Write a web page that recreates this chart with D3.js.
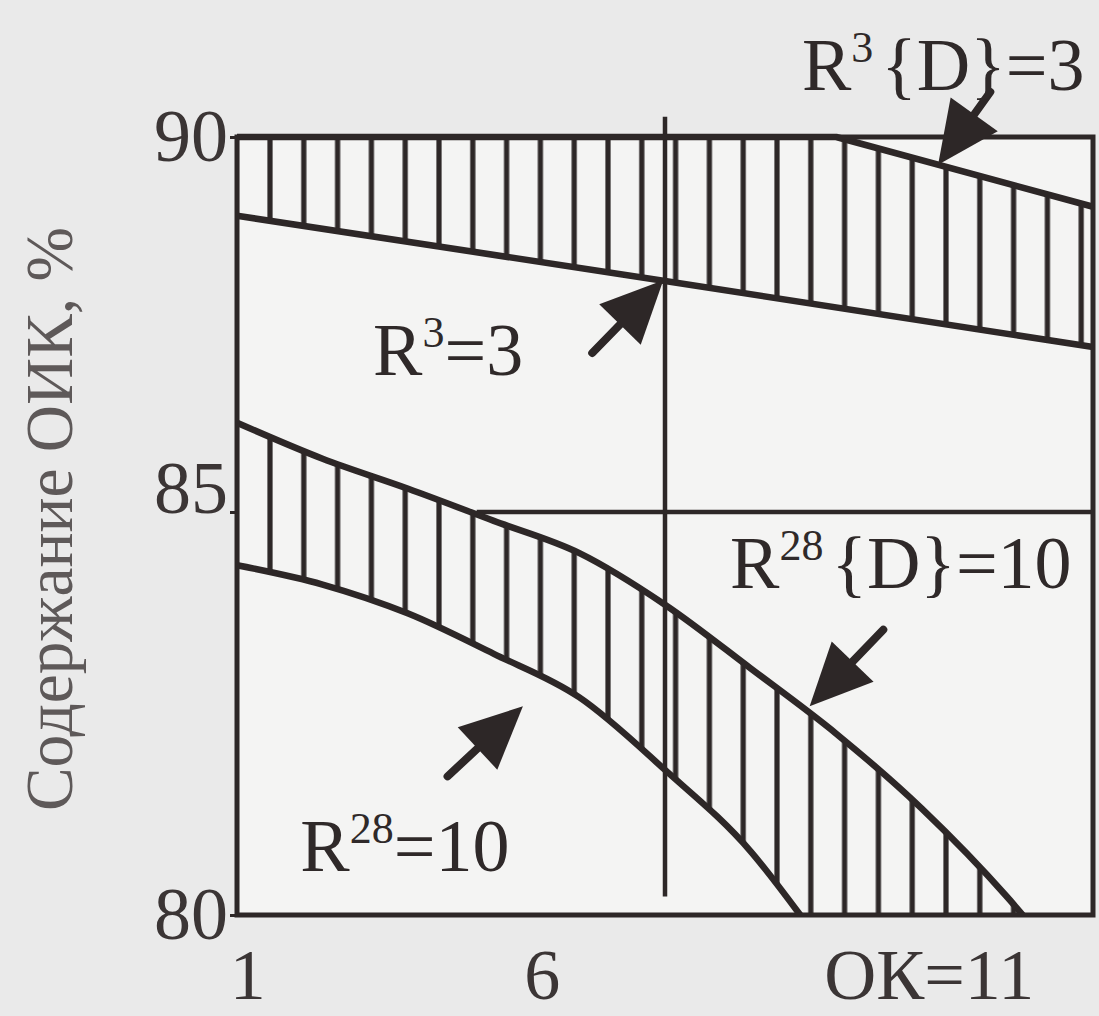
<!DOCTYPE html>
<html>
<head>
<meta charset="utf-8">
<script src="https://cdn.jsdelivr.net/npm/d3@7"></script>
<style>
  html, body { margin: 0; padding: 0; background: #eaeaea; }
  svg { display: block; }
  text { font-family: "Liberation Serif", "Times New Roman", serif; fill: #2f2929; }
</style>
</head>
<body>
<div id="chart"></div>
<script>
// ticks
var yTicks = [80, 85, 90];
var xTickPos = [1.12, 4.56, 9.08];
var xTickLabels = ["1", "6", "ОК=11"];

// band R3: upper edge and lower edge
var upperTop = [[1, 90], [8, 90], [11, 89.07]];
var upperBottom = [[1, 88.95], [6, 88.08], [11, 87.2]];

// band R28: upper edge and lower edge
var lowerTop = [[1, 86.19], [2, 85.71], [3, 85.31], [4, 84.89], [5, 84.49], [6, 83.85],
                [7, 83.06], [8, 82.25], [9, 81.32], [10, 80.22], [10.18, 80]];
var lowerBottom = [[1, 84.34], [2, 84.10], [3, 83.74], [4, 83.24], [5, 82.70], [6, 81.80],
                   [7, 80.79], [7.58, 80]];

// reference lines
var dividerX = 6;
var dividerSpan = [80.23, 90.27];
var level85 = 85;
var level85From = 3.8;

// arrows (from -> to) and their labels
var arrows = [
  { from: [5.15, 87.12], to: [5.98, 88.09] },
  { from: [9.80, 90.60], to: [9.19, 89.63] },
  { from: [8.55, 83.54], to: [7.69, 82.59] },
  { from: [3.46, 81.72], to: [4.34, 82.59] }
];
var labels = [
  { at: [2.59, 86.83], main: "R", sup: "3", rest: "=3" },
  { at: [7.60, 90.63], main: "R", sup: "3", rest: "{D}=3" },
  { at: [6.76, 84.06], main: "R", sup: "28", rest: "{D}=10" },
  { at: [1.74, 80.54], main: "R", sup: "28", rest: "=10" }
];
var yTitle = "Содержание ОИК, %";

document.addEventListener('DOMContentLoaded', function(){
    makeChart();
}, false);

function makeChart(){
  var width = 1099, height = 1016;
  var ink = "#2d2727";

  var x = d3.scaleLinear().domain([1, 11]).range([237, 1093]);
  var y = d3.scaleLinear().domain([80, 85, 90]).range([915, 512, 137]);

  var svg = d3.select("#chart").append("svg")
      .attr("width", width)
      .attr("height", height);

  // paper inside the frame
  svg.append("rect")
      .attr("x", x(1)).attr("y", y(90))
      .attr("width", x(11) - x(1)).attr("height", y(80) - y(90))
      .attr("fill", "#f4f4f3");

  // vertical hatching
  var step = 33.8;
  var pat = svg.append("defs").append("pattern")
      .attr("id", "hatch")
      .attr("patternUnits", "userSpaceOnUse")
      .attr("x", 270 - step / 2).attr("y", 0)
      .attr("width", step).attr("height", height);
  pat.append("rect")
      .attr("x", step / 2 - 2.6).attr("y", 0)
      .attr("width", 5.2).attr("height", height)
      .attr("fill", ink);

  var straight = d3.line()
      .x(function(d){ return x(d[0]); })
      .y(function(d){ return y(d[1]); });
  var smooth = d3.line()
      .x(function(d){ return x(d[0]); })
      .y(function(d){ return y(d[1]); })
      .curve(d3.curveMonotoneX);

  function band(gen, top, bottom){
    var a = gen(top);
    var b = gen(bottom.slice().reverse());
    return a + "L" + b.slice(1) + "Z";
  }

  svg.append("path").attr("d", band(straight, upperTop, upperBottom)).attr("fill", "url(#hatch)");
  svg.append("path").attr("d", band(smooth, lowerTop, lowerBottom)).attr("fill", "url(#hatch)");

  // divider and 85 level
  svg.append("line")
      .attr("x1", x(dividerX)).attr("x2", x(dividerX))
      .attr("y1", y(dividerSpan[1])).attr("y2", y(dividerSpan[0]))
      .attr("stroke", ink).attr("stroke-width", 4.5);
  svg.append("line")
      .attr("x1", x(level85From)).attr("x2", x(11))
      .attr("y1", y(level85)).attr("y2", y(level85))
      .attr("stroke", ink).attr("stroke-width", 4.5);

  // band edges
  [[straight, upperTop], [straight, upperBottom], [smooth, lowerTop], [smooth, lowerBottom]]
    .forEach(function(p){
      svg.append("path")
          .attr("d", p[0](p[1]))
          .attr("fill", "none")
          .attr("stroke", ink)
          .attr("stroke-width", 6.5)
          .attr("stroke-linejoin", "round");
    });

  // frame
  svg.append("rect")
      .attr("x", x(1)).attr("y", y(90))
      .attr("width", x(11) - x(1)).attr("height", y(80) - y(90))
      .attr("fill", "none")
      .attr("stroke", ink).attr("stroke-width", 5);

  // arrows
  var headLen = 62, halfW = 29;
  arrows.forEach(function(a){
    var x0 = x(a.from[0]), y0 = y(a.from[1]), x1 = x(a.to[0]), y1 = y(a.to[1]);
    var dx = x1 - x0, dy = y1 - y0, len = Math.hypot(dx, dy);
    var ux = dx / len, uy = dy / len;
    var bx = x1 - ux * headLen, by = y1 - uy * headLen;
    svg.append("line")
        .attr("x1", x0).attr("y1", y0)
        .attr("x2", bx + ux * 6).attr("y2", by + uy * 6)
        .attr("stroke", ink).attr("stroke-width", 8).attr("stroke-linecap", "round");
    svg.append("path")
        .attr("d", "M" + x1 + "," + y1 +
                   "L" + (bx - uy * halfW) + "," + (by + ux * halfW) +
                   "L" + (bx + uy * halfW) + "," + (by - ux * halfW) + "Z")
        .attr("fill", ink);
  });

  // labels with superscripts
  labels.forEach(function(l){
    var t = svg.append("text")
        .attr("x", x(l.at[0])).attr("y", y(l.at[1]))
        .attr("font-size", 74);
    t.append("tspan").text(l.main);
    t.append("tspan").attr("dy", -28).attr("font-size", 44).text(l.sup);
    t.append("tspan").attr("dy", 28).attr("dx", l.rest.charAt(0) === "{" ? 8 : 0).text(l.rest);
  });

  // y axis
  var yAxis = svg.append("g")
      .attr("transform", "translate(" + x(1) + ",0)")
      .call(d3.axisLeft(y).tickValues(yTicks).tickSize(7).tickPadding(2).tickFormat(d3.format("d")));
  yAxis.select(".domain").remove();
  yAxis.selectAll("line").attr("stroke", ink).attr("stroke-width", 3);
  yAxis.selectAll("text")
      .attr("font-size", 74)
      .style("fill", "#3b3535")
      .attr("dy", function(d){ return d === 85 ? "0" : "0.32em"; });

  // x axis
  var xAxis = svg.append("g")
      .attr("transform", "translate(0," + y(80) + ")")
      .call(d3.axisBottom(x).tickValues(xTickPos).tickSize(0).tickPadding(33)
              .tickFormat(function(d, i){ return xTickLabels[i]; }));
  xAxis.select(".domain").remove();
  xAxis.selectAll("text").attr("font-size", 72).style("fill", "#3b3535");

  // y title
  svg.append("text")
      .attr("transform", "translate(72,519) rotate(-90)")
      .attr("text-anchor", "middle")
      .attr("font-size", 68)
      .attr("textLength", 584)
      .attr("lengthAdjust", "spacingAndGlyphs")
      .style("fill", "#5e5959")
      .text(yTitle);
}
</script>
</body>
</html>
